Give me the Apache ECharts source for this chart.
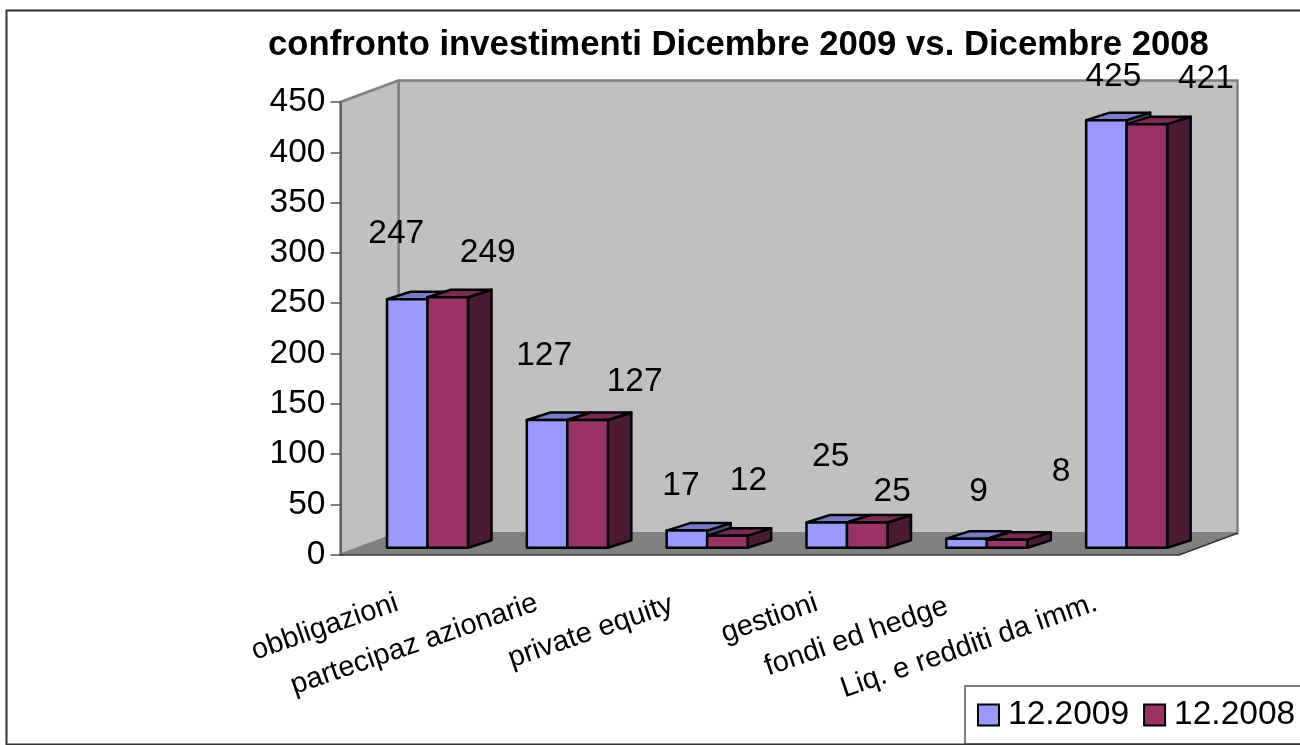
<!DOCTYPE html>
<html>
<head>
<meta charset="utf-8">
<style>html,body{margin:0;padding:0;background:#fff}#main{width:1300px;height:745px}</style>
<script src="https://cdn.jsdelivr.net/npm/echarts@6/dist/echarts.min.js"></script>
</head>
<body>
<div id="main"></div>
<script>
var categories = ['obbligazioni', 'partecipaz azionarie', 'private equity', 'gestioni', 'fondi ed hedge', 'Liq. e redditi da imm.'];
var values2009 = [247, 127, 17, 25, 9, 425];
var values2008 = [249, 127, 12, 25, 8, 421];
var yTicks = [0, 450, 50];

// where excel left the data labels, relative to the top of each bar
var labelShift2009 = [[-11, -65], [-3, -64], [-6, -45], [4, -66], [12, -47], [7, -43]];
var labelShift2008 = [[40, -44], [47, -38], [21, -55], [25, -31], [54, -68], [59, -45]];
// the rotated category labels do not all end at the same distance from the band centre
var categoryPad = [14, 14, 19, 14, 24, 14];

var FONT = '"Liberation Sans", Arial, sans-serif';
var DEPTH_X = 58, DEPTH_Y = 21.5;     // wall offset
var BAR_DX = 23.5, BAR_DY = 7.5;      // bar depth
var BAR_LEFT = 46.5, BAR_W = 40.5;    // inside one category band
var BASE_UP = 7;                      // bars stand a little behind the axis

var chart = echarts.init(document.getElementById('main'));

function poly(points, fill, stroke, width) {
  return {
    type: 'polygon',
    shape: { points: points },
    style: { fill: fill, stroke: stroke || 'none', lineWidth: width || 0, lineJoin: 'round' }
  };
}

function renderWalls(params, api) {
  var r = params.coordSys;
  var x0 = r.x, x1 = r.x + r.width, y0 = r.y, y1 = r.y + r.height;
  return {
    type: 'group',
    silent: true,
    children: [
      poly([[x0 + DEPTH_X, y0 - DEPTH_Y], [x1 + DEPTH_X, y0 - DEPTH_Y], [x1 + DEPTH_X, y1 - DEPTH_Y], [x0 + DEPTH_X, y1 - DEPTH_Y]], '#c0c0c0', '#808080', 2.5),
      poly([[x0, y0], [x0 + DEPTH_X, y0 - DEPTH_Y], [x0 + DEPTH_X, y1 - DEPTH_Y], [x0, y1]], '#c0c0c0', '#808080', 2.5),
      poly([[x0, y1], [x0 + DEPTH_X, y1 - DEPTH_Y], [x1 + DEPTH_X, y1 - DEPTH_Y], [x1, y1]], '#808080'),
      { type: 'line', shape: { x1: x1, y1: y1, x2: x1 + DEPTH_X, y2: y1 - DEPTH_Y }, style: { stroke: '#333', lineWidth: 1.5 } }
    ]
  };
}

function barRenderer(slot, front, top, side, shifts) {
  return function (params, api) {
    var i = api.value(0);
    var v = api.value(1);
    var band = api.size([1, 0])[0];
    var start = api.coord([i, 0])[0] - band / 2;
    var xl = start + BAR_LEFT + slot * BAR_W;
    var xr = xl + BAR_W;
    var yb = api.coord([i, 0])[1] - BASE_UP;
    var yt = yb - (api.coord([i, 0])[1] - api.coord([i, v])[1]);
    var shift = shifts[i];
    return {
      type: 'group',
      children: [
        poly([[xr, yb], [xr + BAR_DX, yb - BAR_DY], [xr + BAR_DX, yt - BAR_DY], [xr, yt]], side, '#000', 2.5),
        poly([[xl, yt], [xl + BAR_DX, yt - BAR_DY], [xr + BAR_DX, yt - BAR_DY], [xr, yt]], top, '#000', 2.5),
        poly([[xl, yb], [xr, yb], [xr, yt], [xl, yt]], front, '#000', 2.5),
        {
          type: 'text',
          z2: 50,
          style: {
            x: (xl + xr) / 2 + shift[0],
            y: yt + shift[1],
            text: String(v),
            fill: '#000',
            font: '33.5px ' + FONT,
            align: 'center',
            verticalAlign: 'middle'
          }
        }
      ]
    };
  };
}

var option = {
  animation: false,
  backgroundColor: '#fff',
  textStyle: { fontFamily: FONT },
  title: {
    text: 'confronto investimenti Dicembre 2009 vs. Dicembre 2008',
    left: 268,
    top: 28,
    padding: 0,
    textStyle: { fontFamily: FONT, fontSize: 34.7, fontWeight: 'bold', color: '#000' }
  },
  legend: {
    left: 977,
    top: 698,
    width: 323,
    padding: 0,
    itemWidth: 21,
    itemHeight: 21,
    itemGap: 14,
    icon: 'rect',
    textStyle: { fontFamily: FONT, fontSize: 33.5, color: '#000', padding: [0, 0, 0, 4] },
    data: ['12.2009', '12.2008']
  },
  grid: { left: 340.5, top: 102, width: 839, height: 452.7 },
  xAxis: {
    type: 'category',
    data: categories.map(function (name, i) {
      return { value: name, textStyle: { padding: [0, categoryPad[i], 0, 0] } };
    }),
    z: 5,
    axisLine: { lineStyle: { color: '#333', width: 1.5 } },
    axisTick: { length: 9, lineStyle: { color: '#555', width: 1.5 } },
    axisLabel: {
      interval: 0,
      rotate: 19,
      margin: 43,
      padding: [0, 14, 0, 0],
      fontSize: 29,
      color: '#000',
      fontFamily: FONT
    }
  },
  yAxis: {
    type: 'value',
    min: yTicks[0],
    max: yTicks[1],
    interval: yTicks[2],
    z: 5,
    splitLine: { show: false },
    axisLine: { show: true, lineStyle: { color: '#555', width: 1.5 } },
    axisTick: { show: true, length: 10, lineStyle: { color: '#555', width: 1.5 } },
    axisLabel: { margin: 15, fontSize: 33.5, color: '#000', fontFamily: FONT }
  },
  series: [
    { type: 'custom', name: 'walls', z: 1, silent: true, renderItem: renderWalls, data: [[0]], encode: { x: 0 } },
    {
      type: 'custom', name: '12.2009', z: 6, clip: false,
      itemStyle: { color: '#9999ff', borderColor: '#000', borderWidth: 2.5 },
      renderItem: barRenderer(0, '#9999ff', '#7a7acc', '#4d4d80', labelShift2009),
      encode: { x: 0, y: 1 },
      data: values2009.map(function (v, i) { return [i, v]; })
    },
    {
      type: 'custom', name: '12.2008', z: 7, clip: false,
      itemStyle: { color: '#993366', borderColor: '#000', borderWidth: 2.5 },
      renderItem: barRenderer(1, '#993366', '#7a2952', '#4d1a33', labelShift2008),
      encode: { x: 0, y: 1 },
      data: values2008.map(function (v, i) { return [i, v]; })
    }
  ],
  graphic: [
    {
      type: 'rect',
      z: 0,
      silent: true,
      shape: { x: 965, y: 686, width: 400, height: 58 },
      style: { fill: '#fff', stroke: '#808080', lineWidth: 2 }
    },
    {
      type: 'rect',
      z: 100,
      silent: true,
      shape: { x: 6.5, y: 10.5, width: 1320, height: 734 },
      style: { fill: 'none', stroke: '#333', lineWidth: 2 }
    }
  ]
};

chart.setOption(option);
</script>
</body>
</html>
